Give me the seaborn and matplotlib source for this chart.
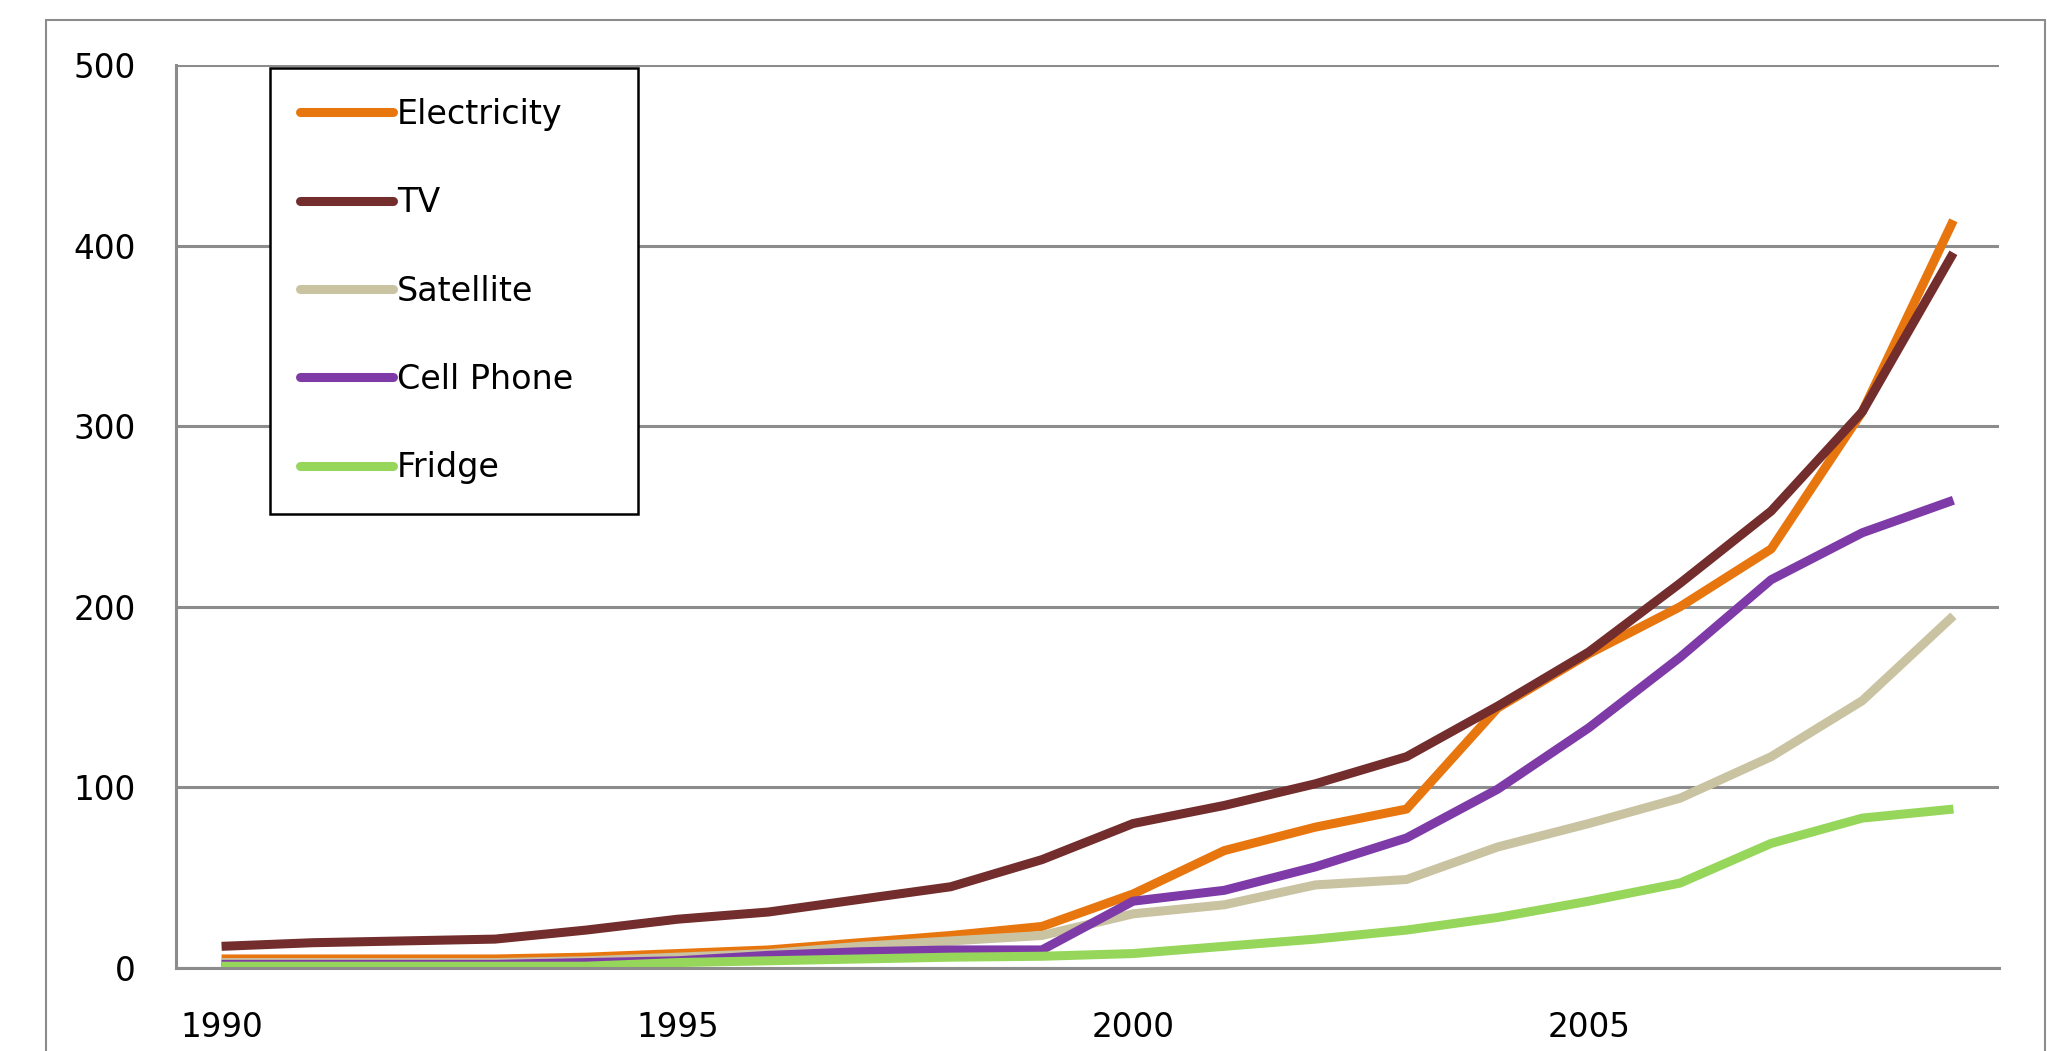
import pandas as pd
import numpy as np
import matplotlib.pyplot as plt
from matplotlib.lines import Line2D
from matplotlib.patches import Rectangle
import seaborn as sns

# data
years = list(range(1990, 2010))
electricity = [5, 5, 5, 5, 6, 8, 10, 14, 18, 23, 41, 65, 78, 88, 144, 174, 200, 232, 308, 414]
tv = [12, 14, 15, 16, 21, 27, 31, 38, 45, 60, 80, 90, 102, 117, 145, 175, 213, 253, 308, 396]
satellite = [3, 3, 3, 3, 4, 6, 8, 12, 15, 18, 30, 35, 46, 49, 67, 80, 94, 117, 148, 195]
cell_phone = [2, 2, 2, 2, 3, 4, 7, 9, 10, 10, 37, 43, 56, 72, 99, 133, 172, 215, 241, 259]
fridge = [1, 1, 1, 1, 1, 3, 4, 5, 6, 6.5, 8, 12, 16, 21, 28, 37, 47, 69, 83, 88]

series_names = ["Electricity", "TV", "Satellite", "Cell Phone", "Fridge"]
colors = {"Electricity": "#E8760F", "TV": "#722D2C", "Satellite": "#C9C3A2",
          "Cell Phone": "#7E3BA8", "Fridge": "#96D65A"}

df = pd.DataFrame({"Year": years, "Electricity": electricity, "TV": tv,
                   "Satellite": satellite, "Cell Phone": cell_phone, "Fridge": fridge})
long_df = df.melt(id_vars="Year", var_name="Series", value_name="Value")

sns.set_style("white")
plt.rcParams['font.family'] = ['DejaVu Sans']
plt.rcParams['text.color'] = 'black'

fig = plt.figure(figsize=(20.47, 10.51), dpi=100)
ax = fig.add_axes([176 / 2047, 1 - 968 / 1051, 1823 / 2047, 903 / 1051])

grid_col = "#8c8c8c"

# outer chart border
fig.patches.append(Rectangle((46 / 2047, -0.05), 1999 / 2047, 1 - 20 / 1051 + 0.05,
                             transform=fig.transFigure, fill=False,
                             edgecolor=grid_col, linewidth=1.5, zorder=0))

sns.lineplot(data=long_df, x="Year", y="Value", hue="Series", hue_order=series_names,
             palette=colors, linewidth=6.5, legend=False, ax=ax,
             solid_joinstyle="round", solid_capstyle="butt")

ax.set_xlim(1989.5, 2009.5)
ax.set_ylim(0, 500)
ax.set_xlabel("")
ax.set_ylabel("")

ax.set_yticks(range(0, 501, 100))
ax.yaxis.grid(True, color=grid_col, linewidth=2.2)
ax.set_axisbelow(True)

ax.set_xticks([1990, 1995, 2000, 2005])
ax.set_xticks(np.arange(1989.5, 2010, 1), minor=True)
ax.tick_params(axis="x", which="major", length=0, pad=31, labelsize=23.5, labelcolor="black")
ax.tick_params(axis="x", which="minor", length=11, width=2, color=grid_col, direction="out")
ax.tick_params(axis="y", which="major", length=10, width=2, color=grid_col, pad=19,
               labelsize=23.5, labelcolor="black", direction="out")

for side in ["top", "right"]:
    ax.spines[side].set_visible(False)
for side in ["left", "bottom"]:
    ax.spines[side].set_color(grid_col)
    ax.spines[side].set_linewidth(2.2)

handles = [Line2D([0], [0], color=colors[n], linewidth=6.5) for n in series_names]
leg = ax.legend(handles, series_names, loc="upper left",
                bbox_to_anchor=(94 / 1823, 900 / 903, 368 / 1823, 0), mode="expand",
                borderaxespad=0, fontsize=24, frameon=True, fancybox=False,
                edgecolor="black", framealpha=1, borderpad=0.9, labelspacing=1.66,
                handlelength=2.8, handletextpad=0.1)
leg.get_frame().set_linewidth(1.8)

plt.savefig("out.png", dpi=100)
